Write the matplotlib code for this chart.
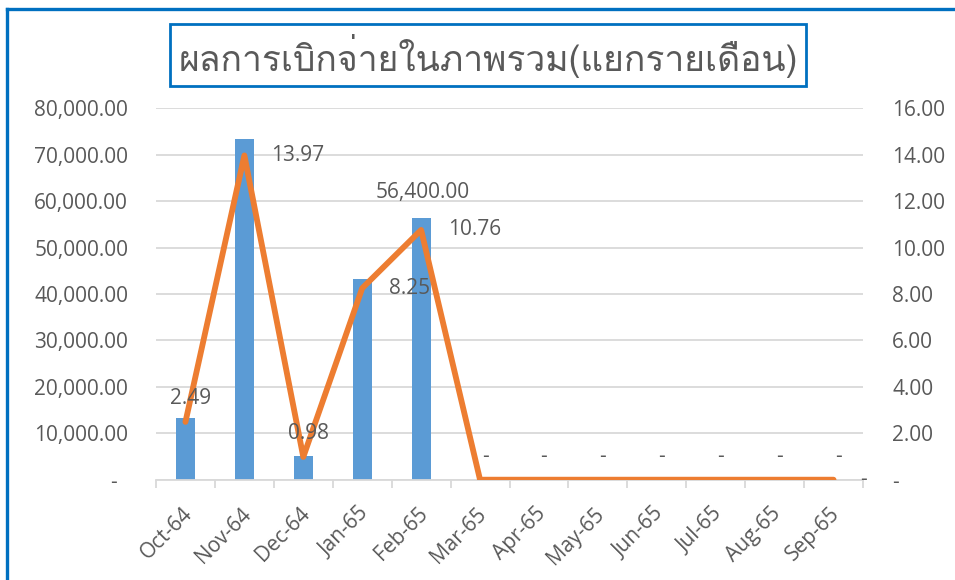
import numpy as np
import matplotlib
matplotlib.use('Agg')
import matplotlib.pyplot as plt
import matplotlib.transforms as mtransforms
from matplotlib import font_manager
from matplotlib.ft2font import FT2Font
from matplotlib.lines import Line2D
from matplotlib.patches import Rectangle
from matplotlib.ticker import FuncFormatter

# data
months = ['Oct-64', 'Nov-64', 'Dec-64', 'Jan-65', 'Feb-65', 'Mar-65',
          'Apr-65', 'May-65', 'Jun-65', 'Jul-65', 'Aug-65', 'Sep-65']
amounts = [13200, 73400, 5100, 43200, 56400, 0, 0, 0, 0, 0, 0, 0]
percents = [2.49, 13.97, 0.98, 8.25, 10.76, 0, 0, 0, 0, 0, 0, 0]
title = 'ผลการเบิกจ่ายในภาพรวม(แยกรายเดือน)'

# which bar labels are shown, and where each line label sits
bar_label_shown = [False, False, False, False, True, True, True, True, True, True, True, True]
line_label_pos = ['above', 'right', 'above', 'right', 'right', 'above',
                  'above', 'above', 'above', 'above', 'above', 'above']

BLUE = '#5B9BD5'
ORANGE = '#ED7D31'
GREY = '#595959'
GRID = '#D9D9D9'
FS = 15


def find_thai_font():
    for f in font_manager.fontManager.ttflist:
        try:
            if ord('ผ') in FT2Font(f.fname).get_charmap():
                return f.name
        except Exception:
            pass
    return 'DejaVu Sans'


thai_font = find_thai_font()
plt.rcParams['font.family'] = ['Open Sans', 'DejaVu Sans']

fig = plt.figure(figsize=(9.55, 5.8), dpi=100)
ax = fig.add_axes([156 / 955, 1 - 479.7 / 580, 707 / 955, 371.4 / 580])

x = np.arange(len(months))
ax.bar(x, amounts, width=0.32, color=BLUE, zorder=2)
ax.set_xlim(-0.5, len(months) - 0.5)
ax.set_ylim(0, 80000)
ax.set_yticks(np.arange(0, 80001, 10000))
ax.yaxis.set_major_formatter(FuncFormatter(lambda v, p: '-  ' if v == 0 else f'{v:,.2f}'))
ax.grid(axis='y', color=GRID, lw=1.3, zorder=0)
ax.set_axisbelow(True)
for s in ['left', 'right', 'top']:
    ax.spines[s].set_visible(False)
ax.spines['bottom'].set_color(GRID)
ax.spines['bottom'].set_linewidth(1.3)
ax.tick_params(axis='y', length=0, pad=20, labelsize=FS, labelcolor=GREY)

ax.set_xticks(x)
ax.set_xticklabels(months, rotation=45, ha='right', rotation_mode='anchor')
ax.tick_params(axis='x', which='major', length=0, pad=17, labelsize=FS, labelcolor=GREY)
ax.set_xticks(np.arange(-0.5, len(months), 1), minor=True)
ax.tick_params(axis='x', which='minor', length=6, width=1.3, color=GRID)
shift = mtransforms.ScaledTranslation(-4 / 100, 0, fig.dpi_scale_trans)
for lbl in ax.get_xticklabels():
    lbl.set_transform(lbl.get_transform() + shift)

# bar labels
for xi, v, show in zip(x, amounts, bar_label_shown):
    if not show:
        continue
    if v == 0:
        ax.annotate('-', (xi, 0), xytext=(30, 0), textcoords='offset pixels',
                    ha='center', va='center', fontsize=FS, color=GREY, zorder=5)
    else:
        ax.annotate(f'{v:,.2f}', (xi, v), xytext=(2, 25), textcoords='offset pixels',
                    ha='center', va='center', fontsize=FS, color=GREY, zorder=5)

ax2 = ax.twinx()
ax2.plot(x, percents, color=ORANGE, lw=4.2, solid_capstyle='round', zorder=3)
ax2.set_ylim(0, 16)
ax2.set_yticks(np.arange(0, 16.1, 2))
ax2.yaxis.set_major_formatter(FuncFormatter(lambda v, p: '-' if v == 0 else f'{v:.2f}'))
for s in ax2.spines.values():
    s.set_visible(False)
ax2.tick_params(axis='y', length=0, pad=21, labelsize=FS, labelcolor=GREY)

for xi, v, pos in zip(x, percents, line_label_pos):
    txt = '-' if v == 0 else f'{v:.2f}'
    if pos == 'right':
        ax2.annotate(txt, (xi, v), xytext=(27, 0), textcoords='offset pixels',
                     ha='left', va='center', fontsize=FS, color=GREY)
    else:
        ax2.annotate(txt, (xi, v), xytext=(5, 23), textcoords='offset pixels',
                     ha='center', va='center', fontsize=FS, color=GREY)

# title in a box
fig.add_artist(Rectangle((170 / 955, 1 - 86 / 580), 636 / 955, 62 / 580,
                         transform=fig.transFigure, fc='white', ec='#0070C0', lw=2))
fig.text(488 / 955, 1 - 56 / 580, title, family=[thai_font, 'DejaVu Sans'],
         fontsize=25.5, color=GREY, ha='center', va='center')

# blue frame of the chart object (left and top edges visible)
fig.add_artist(Line2D([7 / 955, 7 / 955], [0, 1 - 9 / 580], transform=fig.transFigure,
                      color='#0070C0', lw=2.4))
fig.add_artist(Line2D([7 / 955, 1], [1 - 9 / 580, 1 - 9 / 580], transform=fig.transFigure,
                      color='#0070C0', lw=2.4))

fig.savefig('out.png', dpi=100, facecolor='white')
